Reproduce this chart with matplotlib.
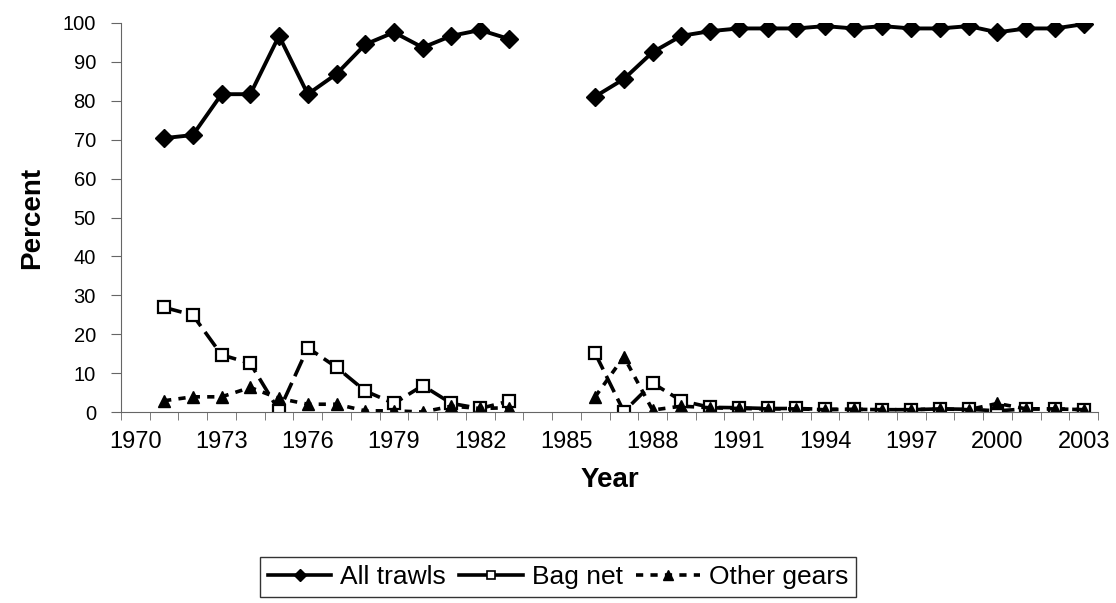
import numpy as np
import matplotlib.pyplot as plt
from matplotlib.lines import Line2D
from matplotlib.ticker import FixedLocator, NullFormatter

plt.rcParams["font.family"] = ["Liberation Sans", "DejaVu Sans"]

nan = np.nan
years = np.arange(1970, 2004)

all_trawls = [nan, 70.4, 71.2, 81.7, 81.7, 96.7, 81.7, 86.9, 94.5, 97.6, 93.7,
              96.7, 98.2, 95.9, nan, nan, 81.1, 85.6, 92.5, 96.7, 97.9, 98.6,
              98.6, 98.6, 99.2, 98.6, 99.2, 98.6, 98.6, 99.2, 97.6, 98.6, 98.6, 99.7]
bag_net = [nan, 26.9, 24.9, 14.7, 12.5, 0.3, 16.5, 11.5, 5.4, 2.2, 6.8,
           2.2, 0.9, 2.8, nan, nan, 15.1, 0.1, 7.4, 2.9, 1.2, 1.1,
           0.9, 0.9, 0.7, 0.7, 0.6, 0.6, 0.8, 0.7, 0.3, 0.8, 0.8, 0.6]
other_gears = [nan, 2.9, 3.9, 3.9, 6.3, 3.5, 2.0, 2.0, 0.3, 0.3, 0.0,
               1.5, 0.9, 1.1, nan, nan, 3.9, 14.2, 0.5, 1.5, 1.1, 0.9,
               0.8, 0.8, 0.6, 0.7, 0.6, 0.6, 0.8, 0.6, 2.2, 0.8, 0.8, 0.6]

tick_years = years[::3]

fig = plt.figure(figsize=(11.16, 6.03), dpi=100)
ax = fig.add_axes([121 / 1116, 191 / 603, 977 / 1116, 389 / 603])

ax.plot(years, all_trawls, color="black", lw=2.8, marker="D", ms=9)
ax.plot(years, bag_net, color="black", lw=2.6, ls=(0, (5, 2)), marker="s", ms=8,
        mfc="white", mec="black", mew=1.6)
ax.plot(years, other_gears, color="black", lw=2.6, ls=(0, (2, 2)), marker="^", ms=9)

ax.set_xlim(1969.5, 2003.5)
ax.set_ylim(0, 100)
ax.set_yticks(np.arange(0, 101, 10))
ax.set_xticks(tick_years)
ax.set_xticklabels([str(y) for y in tick_years])
ax.xaxis.set_minor_locator(FixedLocator(np.arange(1969.5, 2004, 1)))
ax.xaxis.set_minor_formatter(NullFormatter())
ax.tick_params(axis="x", which="major", length=0, pad=14, labelsize=17)
ax.tick_params(axis="x", which="minor", length=6, color="#666666")
ax.tick_params(axis="y", length=7, color="#666666", labelsize=14.5, pad=11)

for s in ["top", "right"]:
    ax.spines[s].set_visible(False)
for s in ["left", "bottom"]:
    ax.spines[s].set_color("#666666")

ax.set_xlabel("Year", fontsize=20, fontweight="bold", va="center")
ax.xaxis.set_label_coords(0.5, -68 / 389)
ax.set_ylabel("Percent", fontsize=20, fontweight="bold", va="center")
ax.yaxis.set_label_coords(-89 / 977, 0.5)

# legend samples as Excel draws them (short, small markers)
handles = [
    Line2D([], [], color="black", lw=2.6, marker="D", ms=6),
    Line2D([], [], color="black", lw=2.6, marker="s", ms=6, mfc="white", mew=1.2),
    Line2D([], [], color="black", lw=2.6, ls=(0, (2, 2)), marker="^", ms=7),
]
labels = ["All trawls", "Bag net", "Other gears"]
leg = fig.legend(handles, labels, loc="upper center",
                 bbox_to_anchor=(0.5, 1 - 557 / 603), ncol=3, fontsize=19,
                 frameon=True, fancybox=False, edgecolor="black",
                 handlelength=2.4, columnspacing=0.5, handletextpad=0.35,
                 borderpad=0.3, borderaxespad=0)
leg.get_frame().set_linewidth(1.0)

fig.savefig("out.png", dpi=100)
